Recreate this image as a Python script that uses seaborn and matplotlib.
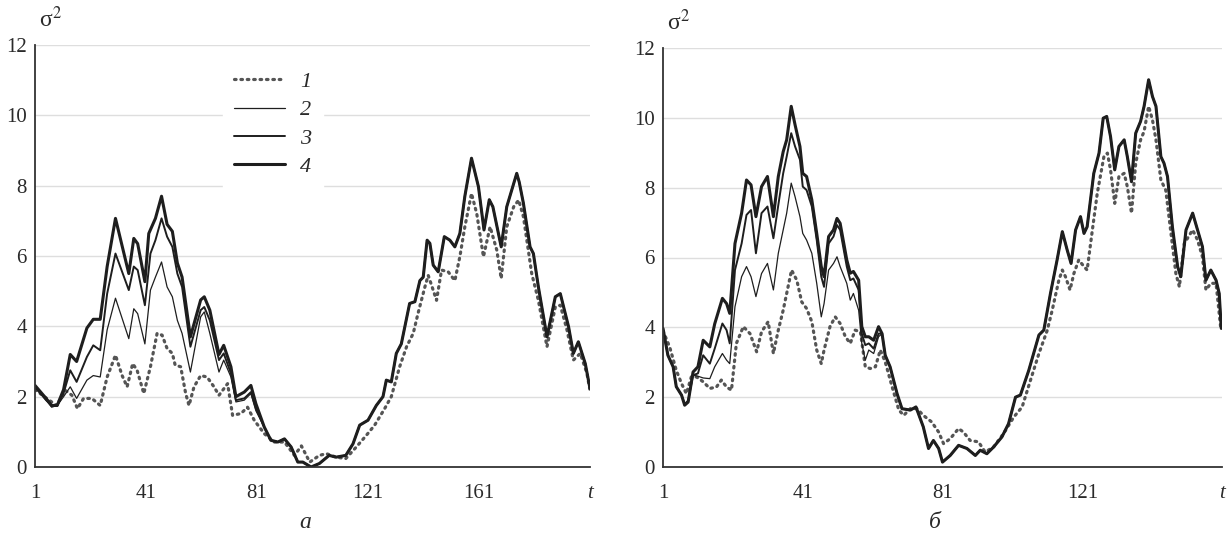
import numpy as np
import pandas as pd
import matplotlib
matplotlib.use("Agg")
import matplotlib.pyplot as plt
import seaborn as sns

# ---------------- data: panel a ----------------
a_t4 = [1,5,7,9,11.3,13.7,16,19.7,22,24.5,27,30,34.8,36.6,38,40.6,42,44.4,46.6,48.6,50.5,52.3,54,57,60.7,62,64,67.3,69,71.6,
        73.4,76.4,78.8,80.6,83.6,86,88.5,90.9,93.3,95.7,97.5,100.5,103.5,107,109.5,113,115.6,118,121,124,126.4,127.6,129.4,
        131.2,133,136,137.9,139.7,140.9,142.3,143.3,144.5,146.3,148.5,150.5,152.3,154.1,155.9,158.3,160.8,162.8,164.7,166,
        169,171,174.6,175.5,177,179.4,180.6,182.4,185.5,188.5,190.3,193.3,195,196.8,199.3,201]
a_s4 = [2.32,1.95,1.75,1.75,2.2,3.2,3.0,3.95,4.2,4.2,5.7,7.07,5.5,6.5,6.35,5.27,6.64,7.07,7.7,6.9,6.7,5.8,5.4,3.7,4.75,
        4.84,4.46,3.2,3.46,2.85,2.0,2.13,2.32,1.8,1.14,0.76,0.71,0.8,0.57,0.14,0.14,0.0,0.1,0.33,0.28,0.33,0.66,1.19,1.33,
        1.75,2.0,2.47,2.42,3.23,3.5,4.65,4.7,5.3,5.4,6.45,6.36,5.74,5.55,6.55,6.45,6.26,6.64,7.7,8.78,7.97,6.74,7.6,7.4,
        6.26,7.4,8.35,8.1,7.5,6.26,6.07,5.12,3.7,4.84,4.93,3.98,3.23,3.56,2.94,2.23]

a_t1 = [1,5.2,8.8,11.9,14.3,16.3,18.5,21.5,24.5,27,30,32.4,34.2,36.2,37.8,40.2,42.6,45,46.8,48.6,50.5,51.5,53.5,55.3,56.5,
        58.3,60.7,63,65.5,67.3,70.4,72.2,75.2,77.6,80,83.6,87.2,90.9,94.5,97,100,103.5,106,109.5,113,116.8,120.4,123.4,127,
        129.4,132.4,134.9,137.3,139,141.5,142.7,143.9,145.7,147.5,149.9,152.3,154.1,155.9,158.3,160.2,162.6,165,167.4,169,
        171,173.5,175.3,177,180,182.4,185.5,188.5,190.3,192.7,195,197.5,199.9,201]
a_s1 = [2.2,1.95,1.75,2.18,2.04,1.66,1.95,1.95,1.75,2.56,3.18,2.6,2.28,2.94,2.75,2.09,2.85,3.8,3.75,3.37,3.23,2.9,2.85,
        2.09,1.75,2.28,2.6,2.56,2.28,2.04,2.37,1.47,1.52,1.7,1.33,0.95,0.71,0.71,0.33,0.6,0.14,0.33,0.38,0.28,0.24,0.57,
        0.9,1.19,1.66,2.0,2.85,3.42,3.8,4.36,5.12,5.45,5.17,4.74,5.6,5.55,5.3,5.98,6.83,7.78,7.2,5.98,6.83,6.17,5.36,6.83,
        7.4,7.59,7.12,5.5,4.74,3.42,4.55,4.6,3.9,3.04,3.23,2.66,2.18]

a_t23 = [1,5,7,9,11.3,13.7,16,19.7,22,24.5,27,30,34.8,36.6,38,40.6,42.6,44.4,46.6,48.6,50.5,52.3,54,57,60.7,62,64,67.3,
         69,71.6,73.4,76.4,78.8,80.6]
a_s3 = [2.3,1.9,1.75,1.75,2.1,2.75,2.42,3.13,3.46,3.32,4.93,6.07,5.03,5.7,5.6,4.6,6.07,6.45,7.07,6.55,6.26,5.5,5.12,3.42,
        4.46,4.55,4.17,3.04,3.23,2.66,1.9,1.95,2.13,1.66]
a_s2 = [2.25,1.9,1.7,1.75,2.0,2.28,1.95,2.47,2.6,2.56,3.9,4.8,3.65,4.5,4.36,3.5,5.03,5.4,5.83,5.12,4.84,4.17,3.8,2.7,
        4.27,4.41,3.8,2.7,3.04,2.56,1.85,1.9,2.09,1.6]

# ---------------- data: panel b ----------------
b_t4 = [1,2.4,3.9,4.8,6.3,7.2,8.2,9.6,11,12.5,14.4,15.8,18,19.2,20.1,21.6,23.5,24.9,26.2,27.6,29.2,30.9,32.6,34,35.4,36.4,
        37.7,38.8,40.2,41,42.1,43.6,45,46.3,47.1,48.4,49.8,50.8,51.7,53.6,54.6,55.5,57,57.9,58.9,59.9,61.3,62.7,63.7,64.6,
        66,68,69.4,71.8,73.4,75.5,77,78.4,79.9,81,83.2,85.6,88,90.4,91.8,93.7,95.6,98,99.9,101.9,103.3,105.7,108.6,110,
        111.9,113.8,115.3,116.7,117.8,119.1,120.5,121.5,122.4,124.3,125.8,127,128,129.1,130.3,131.5,133,133.9,135.1,136.3,
        137.7,138.7,140,141.1,142.1,143.5,144.4,145.4,146.8,148.3,149.2,150.7,152.6,154,155.4,156.4,157.8,159.3,160.2,160.8]
b_s4 = [3.97,3.2,2.87,2.3,2.06,1.77,1.86,2.72,2.87,3.63,3.44,4.1,4.83,4.68,4.4,6.4,7.27,8.22,8.08,7.17,8.03,8.32,7.17,
        8.32,9.03,9.37,10.33,9.8,9.18,8.41,8.32,7.65,6.69,5.74,5.45,6.6,6.79,7.12,6.98,5.93,5.55,5.6,5.35,4.02,3.73,3.73,
        3.63,4.02,3.82,3.2,2.87,2.1,1.67,1.63,1.72,1.15,0.53,0.76,0.53,0.14,0.33,0.62,0.53,0.33,0.48,0.38,0.57,0.86,1.24,
        2.0,2.06,2.77,3.78,3.92,4.97,5.93,6.74,6.21,5.83,6.79,7.17,6.69,6.88,8.41,8.99,9.99,10.04,9.46,8.51,9.18,9.37,8.89,
        8.17,9.56,9.9,10.33,11.09,10.61,10.33,8.89,8.7,8.32,6.88,5.74,5.45,6.79,7.27,6.79,6.31,5.35,5.64,5.35,4.97,3.97]

b_t1 = [1,2.9,4.8,6.3,7.7,9.1,10.6,12.5,14.4,16.3,17.7,19.2,20.6,22,24,25.9,27.8,29.2,31.1,32.6,34,35.4,36.9,37.8,39.3,
        40.7,42.1,43.6,45,46.3,47.1,48.8,50.3,51.7,53.2,54.6,56,57.5,58.9,60.3,61.8,63.2,64.6,66.6,68.5,69.9,71.8,73.7,
        75.5,77.9,79.9,81.3,83.2,85.6,87,88.9,91.3,93.2,95.6,98.5,101.4,103.8,106.2,108.6,111,112.4,114.3,115.3,116.2,
        117.5,118.6,120,121.5,122.4,123.9,125.3,127.2,128.2,129.1,130.3,131.5,133,133.9,135.1,136.3,137.7,138.7,140,141.1,
        142.1,143.5,144.9,146.4,147.8,148.8,150.2,152.6,154,155.4,156.4,157.8,159.3,160.7]
b_s1 = [3.9,3.44,2.77,2.39,2.1,2.58,2.58,2.44,2.25,2.29,2.49,2.29,2.2,3.54,4.02,3.82,3.3,3.87,4.16,3.25,3.92,4.49,5.21,
        5.64,5.35,4.73,4.54,4.16,3.35,2.96,3.35,4.02,4.3,4.11,3.73,3.54,3.92,3.87,2.87,2.82,2.87,3.35,3.01,2.29,1.63,1.48,
        1.67,1.67,1.48,1.29,1.0,0.67,0.81,1.1,1.0,0.76,0.72,0.43,0.57,0.96,1.43,1.72,2.49,3.25,3.92,4.49,5.35,5.64,5.45,
        5.07,5.54,5.93,5.74,5.64,6.79,7.84,8.89,8.99,8.51,7.55,8.32,8.41,8.03,7.27,8.7,9.37,9.61,10.33,9.94,9.37,8.22,7.93,
        6.69,5.54,5.16,6.4,6.79,6.5,6.02,5.07,5.26,5.26,3.92]

b_t23 = [1,2.4,3.9,4.8,6.3,7.2,8.2,9.6,11,12.5,14.4,15.8,18,19.2,20.1,21.6,23.5,24.9,26.2,27.6,29.2,30.9,32.6,34,35.4,
         36.4,37.7,38.8,40.2,41,42.1,43.6,45,46.3,47.1,48.4,49.8,50.8,51.7,53.6,54.6,55.5,57,57.9,58.9,59.9,61.3,62.7]
b_s3 = [3.95,3.2,2.87,2.3,2.06,1.8,1.9,2.63,2.68,3.2,2.96,3.39,4.11,3.92,3.54,5.64,6.4,7.22,7.36,6.12,7.27,7.46,6.55,7.5,
        8.41,8.89,9.56,9.18,8.8,8.03,7.93,7.46,6.5,5.45,5.16,6.4,6.6,6.93,6.79,5.74,5.35,5.4,5.07,3.82,3.49,3.54,3.39,3.82]
b_s2 = [3.95,3.2,2.87,2.3,2.06,1.8,1.9,2.63,2.6,2.55,2.53,2.87,3.25,3.06,2.96,4.59,5.45,5.74,5.45,4.88,5.54,5.83,5.07,
        6.12,6.79,7.27,8.13,7.74,7.17,6.69,6.5,6.12,5.26,4.3,4.68,5.64,5.83,6.02,5.74,5.26,4.78,4.97,4.49,3.54,3.06,3.35,
        3.25,3.73]

a_xticks = [1, 41, 81, 121, 161, 201]
a_xlabels = ["1", "41", "81", "121", "161", "t"]
b_xticks = [1, 41, 81, 121, 161]
b_xlabels = ["1", "41", "81", "121", "t"]
yticks = [0, 2, 4, 6, 8, 10, 12]
legend_labels = ["1", "2", "3", "4"]
captions = ["а", "б"]

# ---------------- style ----------------
sns.set_style("white")
plt.rcParams["font.family"] = ["Liberation Serif", "DejaVu Serif"]
plt.rcParams["mathtext.fontset"] = "stix"

DARK = "#1e1e1e"
fig = plt.figure(figsize=(12.28, 5.54), dpi=100)
fig.patch.set_facecolor("white")
ax_a = fig.add_axes([35 / 1228, 1 - 467 / 554, 555 / 1228, 422 / 554])
ax_b = fig.add_axes([663 / 1228, 1 - 467 / 554, 559 / 1228, 419 / 554])


def extend(t23, s, t4, s4):
    t23 = list(t23); s = list(s)
    last = t23[-1]
    tail_t = [t for t in t4 if t > last]
    tail_s = [v for t, v in zip(t4, s4) if t > last]
    return t23 + tail_t, s + tail_s


def draw(ax, t1, s1, t23, s2, s3, t4, s4, xmax, xticks, xlabels, with_legend):
    t2x, s2x = extend(t23, s2, t4, s4)
    t3x, s3x = extend(t23, s3, t4, s4)
    sns.lineplot(x=t1, y=s1, ax=ax, color="#555555", lw=2.3, linestyle=(0, (0.5, 1.5)),
                 dash_capstyle="round", label=legend_labels[0], errorbar=None, sort=False)
    sns.lineplot(x=t2x, y=s2x, ax=ax, color=DARK, lw=0.9, label=legend_labels[1], errorbar=None, sort=False)
    sns.lineplot(x=t3x, y=s3x, ax=ax, color=DARK, lw=1.4, label=legend_labels[2], errorbar=None, sort=False)
    sns.lineplot(x=t4, y=s4, ax=ax, color=DARK, lw=2.2, label=legend_labels[3], errorbar=None, sort=False)

    ax.set_xlim(1, xmax)
    ax.set_ylim(0, 12)
    ax.set_yticks(yticks)
    ax.set_yticklabels([str(v) for v in yticks])
    ax.set_xticks(xticks)
    ax.set_xticklabels(xlabels)
    ax.set_xlabel("")
    ax.set_ylabel("")
    ax.grid(axis="y", color="#dedede", lw=1.0)
    ax.grid(axis="x", visible=False)
    ax.set_axisbelow(True)
    for sp in ["top", "right"]:
        ax.spines[sp].set_visible(False)
    for sp in ["left", "bottom"]:
        ax.spines[sp].set_color("#333333")
        ax.spines[sp].set_linewidth(1.3)
    ax.tick_params(axis="x", direction="in", length=7, width=1.3, color="#333333",
                   labelsize=15, pad=12, labelcolor="#2a2a2a")
    ax.tick_params(axis="y", direction="out", length=0, labelsize=15, pad=6, labelcolor="#2a2a2a")
    ytk = ax.yaxis.get_major_ticks()
    ytk[-1].tick1line.set_markersize(5)
    ytk[-1].tick1line.set_markeredgewidth(1.3)
    ytk[-1].tick1line.set_color("#333333")
    ax.get_xticklabels()[-1].set_style("italic")
    if with_legend:
        leg = ax.legend(loc="upper left", bbox_to_anchor=(0.318, 0.99), frameon=True,
                        fancybox=False, framealpha=1.0, handlelength=2.3, handletextpad=0.7,
                        labelspacing=0.35, borderpad=0.5,
                        prop={"family": "Liberation Serif", "style": "italic", "size": 16})
        leg.get_frame().set_edgecolor("white")
        leg.get_frame().set_facecolor("white")
        for txt in leg.get_texts():
            txt.set_color("#2a2a2a")
    else:
        lg = ax.get_legend()
        if lg is not None:
            lg.remove()


draw(ax_a, a_t1, a_s1, a_t23, a_s2, a_s3, a_t4, a_s4, 201, a_xticks, a_xlabels, True)
draw(ax_b, b_t1, b_s1, b_t23, b_s2, b_s3, b_t4, b_s4, 161, b_xticks, b_xlabels, False)

for ax in (ax_a, ax_b):
    ax.text(0.008, 1.03, r"$\mathregular{\sigma}^2$", transform=ax.transAxes, fontsize=17,
            color="#2a2a2a", ha="left", va="bottom")

fig.text(305 / 1228, 1 - 522 / 554, captions[0], fontsize=17, style="italic", ha="center", va="center",
         color="#2a2a2a")
fig.text(935 / 1228, 1 - 522 / 554, captions[1], fontsize=17, style="italic", ha="center", va="center",
         color="#2a2a2a")

fig.savefig("out.png", dpi=100, facecolor="white")
